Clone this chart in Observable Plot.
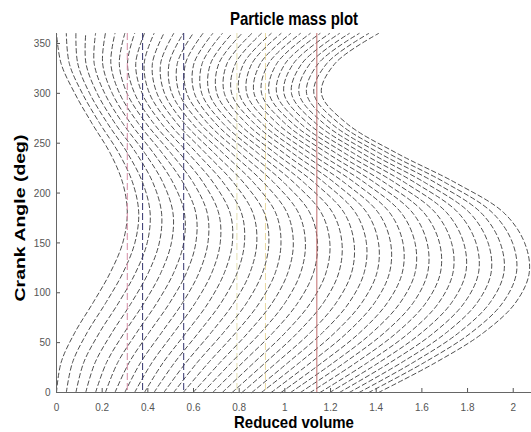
<!DOCTYPE html>
<html>
<head>
<meta charset="utf-8">
<script src="https://cdn.jsdelivr.net/npm/d3@7"></script>
<script src="https://cdn.jsdelivr.net/npm/@observablehq/plot@0.6"></script>
<style>
  html, body { margin: 0; padding: 0; background: #fff; }
  #chart { width: 531px; height: 432px; }
</style>
</head>
<body>
<div id="chart"></div>
<script>
// ---- Data ----
const titleText = "Particle mass plot";
const xLabelText = "Reduced volume";
const yLabelText = "Crank Angle (deg)";

const xTicks = [0, 0.2, 0.4, 0.6, 0.8, 1, 1.2, 1.4, 1.6, 1.8, 2];
const xTickLabels = ["0", "0.2", "0.4", "0.6", "0.8", "1", "1.2", "1.4", "1.6", "1.8", "2"];
const yTicks = [0, 50, 100, 150, 200, 250, 300, 350];
const yTickLabels = ["0", "50", "100", "150", "200", "250", "300", "350"];

// crank angles (deg) at which each particle line's position was read
const angles = [0, 30, 60, 90, 120, 150, 180, 210, 240, 270, 300, 330, 360];

// reduced-volume position of each of the particle lines, one array per crank angle
const xAt0   = [0.000,0.043,0.085,0.128,0.171,0.214,0.256,0.299,0.342,0.385,0.427,0.470,0.513,0.555,0.598,0.641,0.684,0.726,0.769,0.812,0.855,0.897,0.940,0.983,1.025,1.068,1.111,1.154,1.196,1.239,1.282,1.325,1.367,1.410];
const xAt30  = [0.020,0.070,0.119,0.169,0.219,0.268,0.318,0.368,0.418,0.467,0.517,0.567,0.616,0.666,0.716,0.765,0.815,0.865,0.915,0.964,1.014,1.064,1.113,1.163,1.213,1.262,1.312,1.362,1.412,1.461,1.511,1.561,1.610,1.660];
const xAt60  = [0.080,0.134,0.188,0.243,0.297,0.351,0.405,0.460,0.514,0.568,0.622,0.677,0.731,0.785,0.839,0.894,0.948,1.002,1.056,1.111,1.165,1.219,1.273,1.328,1.382,1.436,1.490,1.545,1.599,1.653,1.707,1.762,1.816,1.870];
const xAt90  = [0.160,0.216,0.272,0.328,0.384,0.440,0.496,0.552,0.608,0.665,0.721,0.777,0.833,0.889,0.945,1.001,1.057,1.113,1.169,1.225,1.281,1.337,1.393,1.449,1.505,1.562,1.618,1.674,1.730,1.786,1.842,1.898,1.954,2.010];
const xAt120 = [0.235,0.291,0.346,0.402,0.457,0.513,0.569,0.624,0.680,0.735,0.791,0.847,0.902,0.958,1.013,1.069,1.125,1.180,1.236,1.292,1.347,1.403,1.458,1.514,1.570,1.625,1.681,1.736,1.792,1.848,1.903,1.959,2.014,2.070];
const xAt150 = [0.290,0.343,0.397,0.450,0.503,0.557,0.610,0.663,0.717,0.770,0.823,0.877,0.930,0.983,1.037,1.090,1.143,1.197,1.250,1.303,1.357,1.410,1.463,1.517,1.570,1.623,1.677,1.730,1.783,1.837,1.890,1.943,1.997,2.050];
const xAt180 = [0.310,0.360,0.410,0.460,0.510,0.560,0.610,0.660,0.710,0.760,0.810,0.860,0.910,0.960,1.010,1.060,1.110,1.160,1.210,1.260,1.310,1.360,1.410,1.460,1.510,1.560,1.610,1.660,1.710,1.760,1.810,1.860,1.910,1.960];
const xAt210 = [0.290,0.334,0.378,0.423,0.467,0.511,0.555,0.600,0.644,0.688,0.732,0.777,0.821,0.865,0.909,0.954,0.998,1.042,1.086,1.131,1.175,1.219,1.263,1.308,1.352,1.396,1.440,1.485,1.529,1.573,1.617,1.662,1.706,1.750];
const xAt240 = [0.235,0.273,0.311,0.349,0.387,0.425,0.463,0.501,0.539,0.577,0.615,0.653,0.691,0.729,0.767,0.805,0.844,0.882,0.920,0.958,0.996,1.034,1.072,1.110,1.148,1.186,1.224,1.262,1.300,1.338,1.376,1.414,1.452,1.490];
const xAt270 = [0.155,0.189,0.223,0.256,0.290,0.324,0.358,0.392,0.425,0.459,0.493,0.527,0.560,0.594,0.628,0.662,0.696,0.729,0.763,0.797,0.831,0.865,0.898,0.932,0.966,1.000,1.033,1.067,1.101,1.135,1.169,1.202,1.236,1.270];
const xAt300 = [0.080,0.113,0.145,0.178,0.211,0.244,0.276,0.309,0.342,0.375,0.407,0.440,0.473,0.505,0.538,0.571,0.604,0.636,0.669,0.702,0.735,0.767,0.800,0.833,0.865,0.898,0.931,0.964,0.996,1.029,1.062,1.095,1.127,1.160];
const xAt330 = [0.020,0.056,0.093,0.129,0.165,0.202,0.238,0.275,0.311,0.347,0.384,0.420,0.456,0.493,0.529,0.565,0.602,0.638,0.675,0.711,0.747,0.784,0.820,0.856,0.893,0.929,0.965,1.002,1.038,1.075,1.111,1.147,1.184,1.220];
const xAt360 = [0.000,0.043,0.085,0.128,0.171,0.214,0.256,0.299,0.342,0.385,0.427,0.470,0.513,0.555,0.598,0.641,0.684,0.726,0.769,0.812,0.855,0.897,0.940,0.983,1.025,1.068,1.111,1.154,1.196,1.239,1.282,1.325,1.367,1.410];

// space boundaries (reduced volume) drawn as vertical lines
const boundaries = [0.31, 0.377, 0.557, 0.79, 0.915, 1.14];

// ---- Build tidy table ----
const xRows = [xAt0, xAt30, xAt60, xAt90, xAt120, xAt150, xAt180, xAt210, xAt240, xAt270, xAt300, xAt330, xAt360];
const particles = [];
for (let c = 0; c < xAt0.length; c++) {
  for (let j = 0; j < angles.length; j++) {
    particles.push({curve: c, angle: angles[j], x: xRows[j][c]});
  }
}

const chart = Plot.plot({
  width: 531,
  height: 432,
  marginLeft: 56,
  marginRight: 0,
  marginTop: 33,
  marginBottom: 40,
  style: {fontFamily: "'Liberation Sans', Arial, Helvetica, sans-serif", background: "#fff", overflow: "visible"},
  x: {domain: [0, 2.08]},
  y: {domain: [0, 360]},
  marks: [
    Plot.ruleX([boundaries[3]], {stroke: "#e4dfb0", strokeWidth: 1, strokeDasharray: "7,3"}),
    Plot.ruleX([boundaries[4]], {stroke: "#ead9a0", strokeWidth: 1, strokeDasharray: "7,3"}),
    Plot.line(particles, {x: "x", y: "angle", z: "curve", curve: "catmull-rom", stroke: "#3a3a3a", strokeWidth: 0.9, strokeDasharray: "4.5,3"}),
    Plot.ruleX([boundaries[0]], {stroke: "#d48aa4", strokeWidth: 1, strokeDasharray: "7,3"}),
    Plot.ruleX([boundaries[1]], {stroke: "#34346e", strokeWidth: 1, strokeDasharray: "7,3"}),
    Plot.ruleX([boundaries[2]], {stroke: "#34346e", strokeWidth: 1, strokeDasharray: "7,3"}),
    Plot.ruleX([boundaries[5]], {stroke: "#c06a6a", strokeWidth: 1}),
    Plot.axisX({ticks: xTicks, tickFormat: d => xTickLabels[xTicks.indexOf(d)], tickSize: -4, tickPadding: 14, label: null, fontSize: 10, color: "#555"}),
    Plot.axisY({ticks: yTicks, tickFormat: d => yTickLabels[yTicks.indexOf(d)], tickSize: -4, tickPadding: 10, label: null, fontSize: 10, color: "#555"}),
    Plot.ruleY([0], {stroke: "#666"}),
    Plot.ruleX([0], {stroke: "#666"}),
    Plot.text([titleText], {text: d => d, frameAnchor: "top", lineAnchor: "middle", textAnchor: "middle", dy: -14, fontSize: 15, fontWeight: "bold", fill: "#000", className: "ttl-text"}),
    Plot.text([xLabelText], {text: d => d, frameAnchor: "bottom", lineAnchor: "middle", textAnchor: "middle", dy: 30, fontSize: 15, fontWeight: "bold", fill: "#000", className: "xlab-text"}),
    Plot.text([yLabelText], {text: d => d, frameAnchor: "left", lineAnchor: "middle", textAnchor: "middle", dx: -36, dy: 5, rotate: -90, fontSize: 15, fontWeight: "bold", fill: "#000", className: "ylab-text"})
  ]
});

document.getElementById("chart").appendChild(chart);

// stretch the labels the way the reference picture is stretched
function stretch(sel, s) {
  d3.select(chart).selectAll(sel).each(function() {
    const t = this.getAttribute("transform");
    if (t && t.indexOf("translate") >= 0) this.setAttribute("transform", t + " " + s);
  });
}
stretch(".ttl-text text", "scale(1,1.2)");
stretch(".xlab-text text", "scale(1,1.1)");
stretch(".ylab-text text", "scale(1.3,1)");
stretch('g[aria-label="x-axis tick label"] text', "scale(1,1.15)");
stretch('g[aria-label="y-axis tick label"] text', "scale(1,1.15)");
</script>
</body>
</html>
